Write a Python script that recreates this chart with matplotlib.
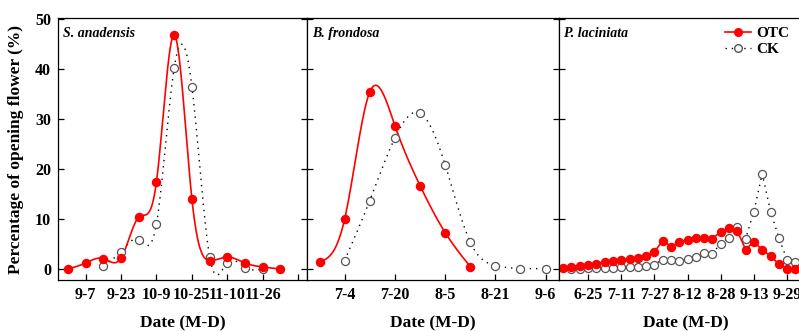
import matplotlib
matplotlib.use("Agg")
import matplotlib.pyplot as plt
import numpy as np

plt.rcParams["font.family"] = ["Liberation Serif", "DejaVu Serif"]
plt.rcParams["font.weight"] = "bold"

# days counted from the first labelled tick of each panel
s_days = [-8, 0, 8, 16, 24, 32, 40, 48, 56, 64, 72, 80, 88]
s_otc = [0.0, 1.2, 2.1, 2.2, 10.4, 17.5, 46.8, 14.0, 1.7, 2.4, 1.2, 0.4, 0.0]
s_ck_days = [8, 16, 24, 32, 40, 48, 56, 64, 72, 80]
s_ck = [0.7, 3.5, 5.9, 9.1, 40.2, 36.5, 2.5, 1.3, 0.3, 0.0]
s_ticks = [0, 16, 32, 48, 64, 80, 96]
s_labels = ["9-7", "9-23", "10-9", "10-25", "11-10", "11-26", ""]

b_days = [-8, 0, 8, 16, 24, 32, 40]
b_otc = [1.4, 10.0, 35.4, 28.7, 16.7, 7.3, 0.5]
b_ck_days = [0, 8, 16, 24, 32, 40, 48, 56, 64]
b_ck = [1.7, 13.7, 26.2, 31.2, 20.9, 5.4, 0.7, 0.1, 0.1]
b_ticks = [0, 16, 32, 48, 64]
b_labels = ["7-4", "7-20", "8-5", "8-21", "9-6"]

p_days = list(range(-12, 104, 4))
p_otc = [0.2, 0.5, 0.7, 0.8, 1.1, 1.4, 1.7, 1.9, 2.0, 2.3, 2.7, 3.4, 5.7, 4.5,
         5.4, 5.8, 6.3, 6.3, 6.1, 7.5, 8.2, 7.6, 3.9, 5.5, 3.8, 2.6, 1.0, 0.1, 0.1]
p_ck_days = list(range(-8, 104, 4))
p_ck = [0.0, 0.1, 0.3, 0.3, 0.3, 0.3, 0.4, 0.5, 0.4, 0.7, 0.9, 1.9, 1.8, 1.6,
        2.1, 2.5, 3.2, 3.1, 5.1, 6.3, 8.5, 6.1, 11.5, 19.1, 11.5, 6.3, 1.8, 1.5]
p_ticks = [0, 16, 32, 48, 64, 80, 96]
p_labels = ["6-25", "7-11", "7-27", "8-12", "8-28", "9-13", "9-29"]


def natural_spline(x, y, n=400):
    x = np.asarray(x, float)
    y = np.asarray(y, float)
    h = np.diff(x)
    m = len(x)
    a = np.zeros((m, m))
    r = np.zeros(m)
    a[0, 0] = a[-1, -1] = 1
    for i in range(1, m - 1):
        a[i, i - 1] = h[i - 1]
        a[i, i] = 2 * (h[i - 1] + h[i])
        a[i, i + 1] = h[i]
        r[i] = 6 * ((y[i + 1] - y[i]) / h[i] - (y[i] - y[i - 1]) / h[i - 1])
    k = np.linalg.solve(a, r)
    xs = np.linspace(x[0], x[-1], n)
    idx = np.clip(np.searchsorted(x, xs) - 1, 0, m - 2)
    t0, t1 = x[idx], x[idx + 1]
    hh = t1 - t0
    ys = (k[idx] * (t1 - xs) ** 3 / (6 * hh) + k[idx + 1] * (xs - t0) ** 3 / (6 * hh)
          + (y[idx] / hh - k[idx] * hh / 6) * (t1 - xs)
          + (y[idx + 1] / hh - k[idx + 1] * hh / 6) * (xs - t0))
    return xs, ys


red = "#ff0000"
ck_style = dict(color="black", lw=1.0, ls=(0, (1, 3.5)))
otc_mk = dict(marker="o", ms=5.8, mfc=red, mec=red, ls="none")
ck_mk = dict(marker="o", ms=5.8, mfc="white", mec="#555555", mew=0.9, ls="none")

fig = plt.figure(figsize=(7.99, 3.31), dpi=100)
W, H = 799, 331
bottom, top = 280, 18
boxes = [(58, 307), (307, 559), (559, 812)]
xlims = [(-12.5, 100), (-12, 68.3), (-14, 108)]
axes = []
for (l, r) in boxes:
    ax = fig.add_axes([l / W, 1 - bottom / H, (r - l) / W, (bottom - top) / H])
    axes.append(ax)

panels = [
    (s_days, s_otc, s_ck_days, s_ck, s_ticks, s_labels, "S. anadensis", True),
    (b_days, b_otc, b_ck_days, b_ck, b_ticks, b_labels, "B. frondosa", True),
    (p_days, p_otc, p_ck_days, p_ck, p_ticks, p_labels, "P. laciniata", False),
]

for i, (ax, pan) in enumerate(zip(axes, panels)):
    xd, yo, xc, yc, ticks, labels, name, smooth = pan
    if smooth:
        ax.plot(*natural_spline(xc, yc), **ck_style)
        ax.plot(*natural_spline(xd, yo), color=red, lw=1.2)
    else:
        ax.plot(xc, yc, **ck_style)
        ax.plot(xd, yo, color=red, lw=1.2)
    ax.plot(xc, yc, **ck_mk)
    ax.plot(xd, yo, **otc_mk)
    ax.set_xlim(*xlims[i])
    ax.set_ylim(-2.2, 50.2)
    ax.set_xticks(ticks)
    ax.set_xticklabels(labels)
    ax.set_yticks([0, 10, 20, 30, 40, 50])
    ax.tick_params(direction="in", length=4, width=0.9, labelsize=11.5,
                   right=True, pad=5)
    for lab in ax.get_xticklabels() + ax.get_yticklabels():
        lab.set_fontweight("bold")
    if i > 0:
        ax.set_yticklabels([])
    ax.set_xlabel("Date (M-D)", fontsize=12.5, fontweight="bold", labelpad=9)
    ax.text(0.02, 0.94, name, transform=ax.transAxes, fontsize=10,
            fontweight="bold", style="italic", va="center")
    for sp in ax.spines.values():
        sp.set_linewidth(0.9)

axes[0].set_ylabel("Percentage of opening flower (%)", fontsize=12.5,
                   fontweight="bold", labelpad=8)

h1, = axes[2].plot([], [], color=red, lw=1.2, marker="o", ms=5.5, mfc=red, mec=red)
h2, = axes[2].plot([], [], marker="o", ms=5.5, mfc="white", mec="#555555", **ck_style)
axes[2].legend([h1, h2], ["OTC", "CK"], loc="upper left",
               bbox_to_anchor=(0.6, 1.02), frameon=False,
               handlelength=1.7, handletextpad=0.35, labelspacing=0.15,
               prop={"weight": "bold", "size": 11})

fig.savefig("out.png", dpi=100)
